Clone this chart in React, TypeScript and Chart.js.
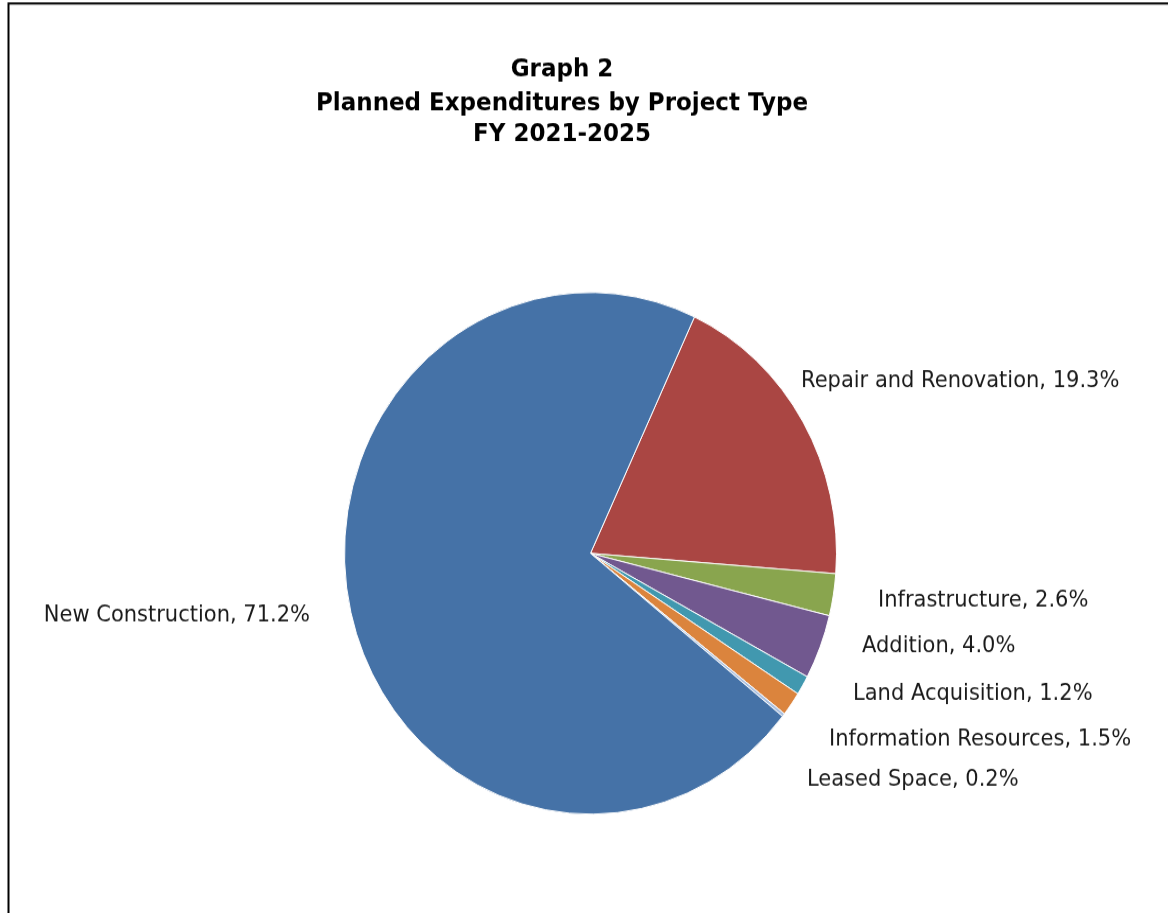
import React, { useEffect, useRef } from "react";
import { Chart, registerables } from "chart.js";

Chart.register(...registerables);

// ---- data ----
const TITLE_LINES = ["Graph 2", "Planned Expenditures by Project Type", "FY 2021-2025"];
const CATEGORIES = [
  "Repair and Renovation",
  "Infrastructure",
  "Addition",
  "Land Acquisition",
  "Information Resources",
  "Leased Space",
  "New Construction",
];
const SHARES = [19.3, 2.6, 4.0, 1.2, 1.5, 0.2, 71.2];

// ---- styles / layout ----
const COLORS = ["#AA4643", "#89A54E", "#71588F", "#4198AF", "#DB843D", "#A9BFDF", "#4572A7"];
// label anchors relative to pie centre (canvas units): dx, dy (baseline), alignment
const LABEL_OFFSETS: [number, number, CanvasTextAlign][] = [
  [210.5, -157.3, "left"],
  [287.5, 50.1, "left"],
  [271.5, 93.5, "left"],
  [262.5, 138.1, "left"],
  [238.5, 181.4, "left"],
  [216.5, 219.2, "left"],
  [-280.5, 64.3, "right"],
];
const W = 1168;
const H = 861;
const SCALE_Y = 913 / H;

const overlayPlugin = {
  id: "overlay",
  beforeDraw(chart: any) {
    const ctx = chart.ctx;
    ctx.save();
    ctx.fillStyle = "#ffffff";
    ctx.fillRect(0, 0, W, H);
    ctx.restore();
  },
  afterDatasetsDraw(chart: any) {
    const ctx: CanvasRenderingContext2D = chart.ctx;
    ctx.save();
    // frame
    ctx.strokeStyle = "#000000";
    ctx.lineWidth = 2;
    ctx.beginPath();
    ctx.moveTo(8.5, H);
    ctx.lineTo(8.5, 3.3);
    ctx.lineTo(W, 3.3);
    ctx.stroke();

    // title
    ctx.fillStyle = "#000000";
    ctx.textAlign = "center";
    ctx.textBaseline = "alphabetic";
    ctx.font = "bold 23px 'DejaVu Sans', sans-serif";
    const baselines = [71.6, 103.7, 132.6];
    TITLE_LINES.forEach((t, i) => ctx.fillText(t, 562, baselines[i]));

    // labels
    const meta = chart.getDatasetMeta(0);
    const arc = meta.data[0];
    const cx = arc.x;
    const cy = arc.y;
    ctx.font = "21px 'DejaVu Sans', sans-serif";
    ctx.fillStyle = "#1a1a1a";
    CATEGORIES.forEach((name, i) => {
      const [dx, dy, align] = LABEL_OFFSETS[i];
      ctx.textAlign = align;
      ctx.fillText(`${name}, ${SHARES[i].toFixed(1)}%`, cx + dx, cy + dy);
    });
    ctx.restore();
  },
};

export default function App() {
  const ref = useRef<HTMLCanvasElement | null>(null);
  useEffect(() => {
    if (!ref.current) return;
    const chart = new Chart(ref.current, {
      type: "pie",
      data: {
        labels: CATEGORIES,
        datasets: [
          {
            data: SHARES,
            backgroundColor: COLORS,
            borderColor: "#ffffff",
            borderWidth: 1,
          },
        ],
      },
      options: {
        responsive: false,
        animation: false,
        devicePixelRatio: 1,
        rotation: 25,
        layout: { padding: { left: 344, right: 331, top: 275.3, bottom: 92.7 } },
        plugins: {
          legend: { display: false },
          tooltip: { enabled: false },
          title: { display: false },
        },
      },
      plugins: [overlayPlugin],
    });
    return () => chart.destroy();
  }, []);

  return (
    <div
      style={{
        position: "absolute",
        left: 0,
        top: 0,
        width: W,
        height: 913,
        overflow: "hidden",
        background: "#ffffff",
      }}
    >
      <canvas
        ref={ref}
        width={W}
        height={H}
        style={{
          display: "block",
          width: W,
          height: H,
          transform: `scaleY(${SCALE_Y})`,
          transformOrigin: "top left",
        }}
      />
    </div>
  );
}
